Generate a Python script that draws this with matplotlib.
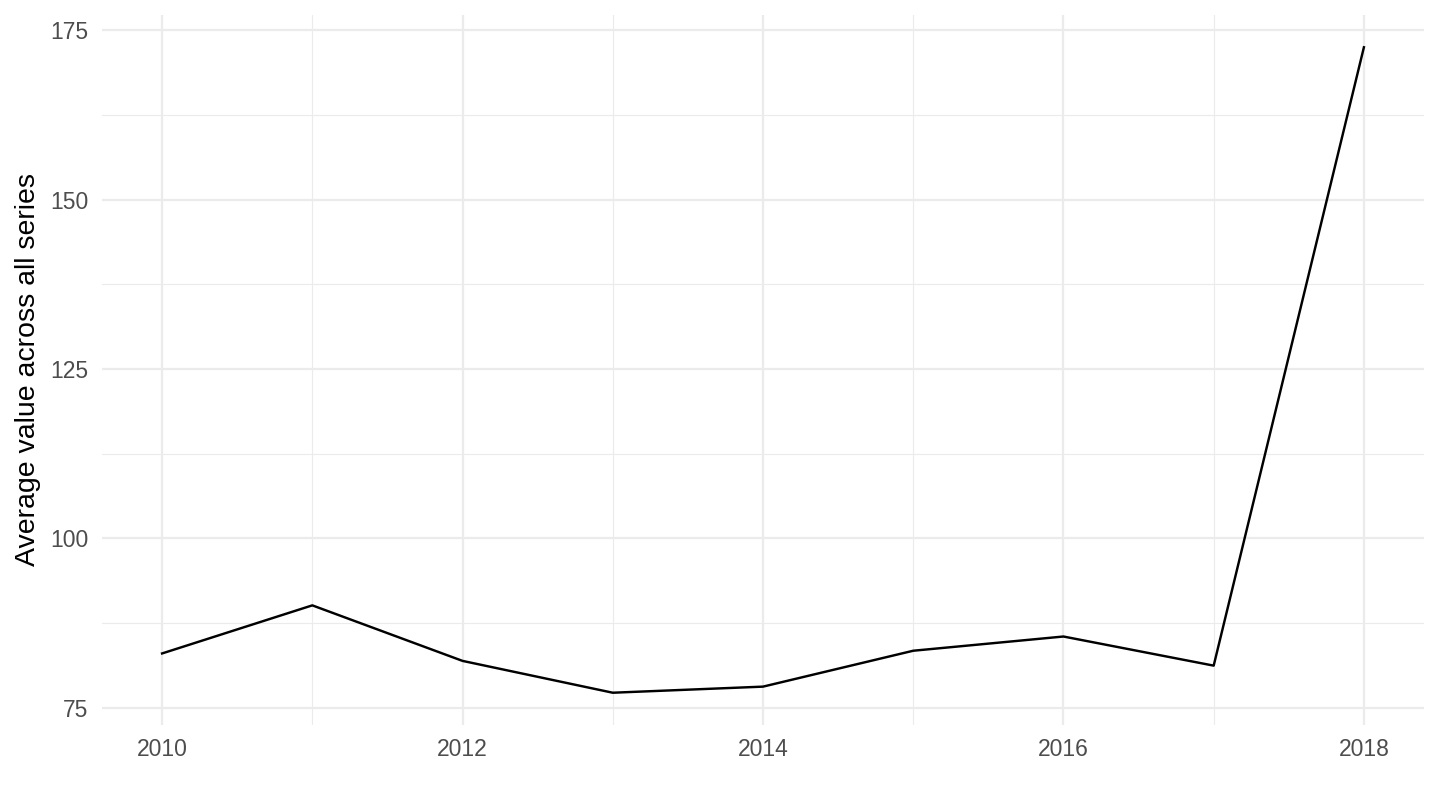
import matplotlib
matplotlib.use("Agg")
import matplotlib.pyplot as plt
from matplotlib.ticker import MultipleLocator

years = [2010, 2011, 2012, 2013, 2014, 2015, 2016, 2017, 2018]
values = [83.0, 90.1, 81.9, 77.2, 78.1, 83.4, 85.5, 81.2, 172.5]
y_ticks = [75, 100, 125, 150, 175]
x_ticks = [2010, 2012, 2014, 2016, 2018]

plt.rcParams['font.family'] = ['Liberation Sans', 'DejaVu Sans']

fig = plt.figure(figsize=(14.4, 8.1), dpi=100)
ax = fig.add_axes([102/1440, 85/810, 1322/1440, 710/810])

xr = max(years) - min(years)
ax.set_xlim(min(years) - 0.05*xr, max(years) + 0.05*xr)
yr = max(values) - min(values)
ax.set_ylim(min(values) - 0.05*yr, max(values) + 0.05*yr)

ax.set_xticks(x_ticks)
ax.set_yticks(y_ticks)
ax.xaxis.set_minor_locator(MultipleLocator(1))
ax.yaxis.set_minor_locator(MultipleLocator(12.5))

ax.grid(which='major', color='#EBEBEB', linewidth=1.6)
ax.grid(which='minor', color='#EBEBEB', linewidth=0.8)
ax.set_axisbelow(True)
for s in ax.spines.values():
    s.set_visible(False)
ax.tick_params(which='both', length=0)
ax.tick_params(axis='both', labelsize=16.5, labelcolor='#4D4D4D')
ax.tick_params(axis='y', pad=10)
ax.tick_params(axis='x', pad=9)

ax.plot(years, values, color='black', linewidth=1.75)
ax.set_ylabel('Average value across all series', fontsize=20.5, color='black')
ax.yaxis.set_label_coords(-0.046, 0.5)

fig.savefig('out.png', dpi=100)
